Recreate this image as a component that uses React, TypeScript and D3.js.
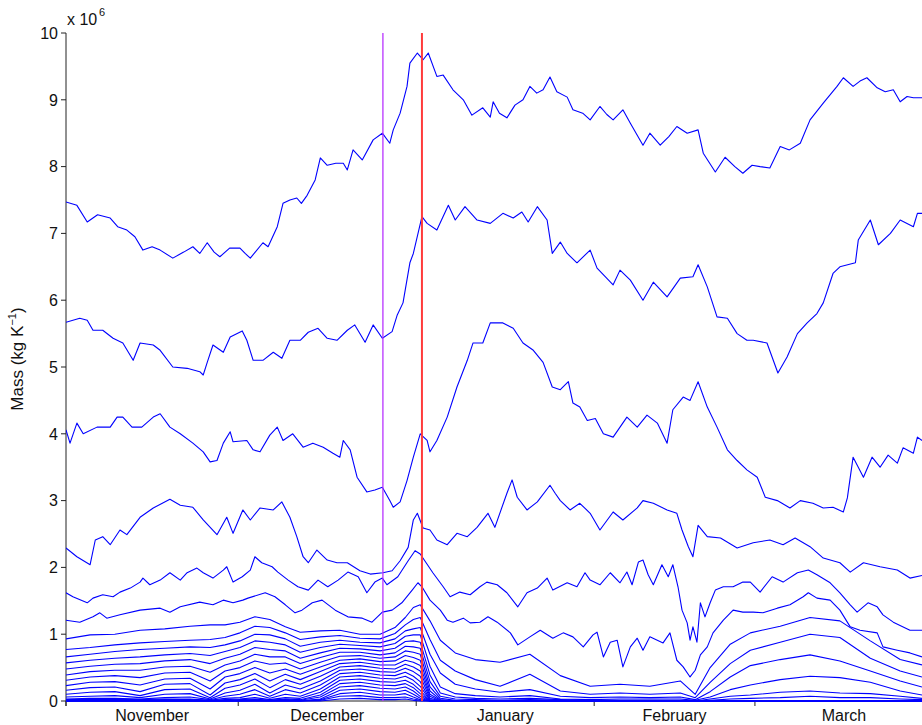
import React from "react";
import * as d3 from "d3";

// x values are days since 1 November; y values are mass in units of 10^6 kg K^-1
const monthLabels = ["November", "December", "January", "February", "March"];
const monthStartDays = [0, 30, 61, 92, 120, 151];
const yTickValues = [0, 1, 2, 3, 4, 5, 6, 7, 8, 9, 10];
const purpleEventDay = 55.2;
const redEventDay = 62.0;
const lastDay = 149.1;

const line1: [number, number][] = [
  [0, 7.47], [1.9, 7.42], [3.7, 7.17], [5.5, 7.28], [7.7, 7.23], [9, 7.1], [10.6, 7.05], [12, 6.95], [13.4, 6.75], [15, 6.8], [16.4, 6.75],
  [18.6, 6.63], [20.5, 6.72], [22.1, 6.8], [23.3, 6.7], [24.6, 6.86], [25.8, 6.72], [26.8, 6.65], [28.5, 6.78], [30.3, 6.78], [31.2, 6.7], [32.1, 6.63],
  [34.3, 6.86], [35.2, 6.8], [36.8, 7.1], [37.8, 7.45], [39, 7.5], [40.2, 7.53], [41, 7.45], [42.0, 7.57], [43.4, 7.8], [44.3, 8.13],
  [45.5, 8.02], [47, 8.05], [48.3, 8.05], [49.0, 7.95], [50.0, 8.25], [51.6, 8.1], [53.5, 8.4], [55.1, 8.5], [56.4, 8.35], [57.0, 8.55],
  [58.2, 8.8], [59.4, 9.2], [59.9, 9.55], [61.2, 9.7], [62.2, 9.6], [63.1, 9.7], [64.6, 9.35], [65.7, 9.37], [67.4, 9.15], [69.2, 9.0],
  [70.7, 8.77], [72.6, 8.88], [73.9, 8.74], [74.4, 8.97], [75.5, 8.8], [76.8, 8.73], [78.2, 8.92], [79.6, 9.0], [80.8, 9.2], [82, 9.1], [83.1, 9.15],
  [84.3, 9.34], [85.5, 9.12], [87.3, 9.04], [88.3, 8.85], [90, 8.8], [91.3, 8.7], [93.0, 8.9], [94.2, 8.78], [95.3, 8.7], [97.0, 8.85], [98.3, 8.65],
  [100.5, 8.32], [101.7, 8.5], [103.5, 8.32], [105, 8.45], [106.4, 8.6], [108.2, 8.5], [110.1, 8.55], [111.0, 8.2], [113.1, 7.92],
  [114.8, 8.14], [116.5, 8.0], [117.9, 7.9], [119.5, 8.02], [120.9, 8.0], [122.6, 7.98], [124.4, 8.3], [126, 8.25], [127.9, 8.35], [129.6, 8.7],
  [131.9, 8.95], [134.3, 9.2], [135.4, 9.33], [137.1, 9.2], [138.3, 9.28], [139.5, 9.33], [141.3, 9.18], [142.7, 9.12], [144.1, 9.15], [145.3, 8.97],
  [146.5, 9.05], [147.6, 9.03], [149.1, 9.03],
];

const line2: [number, number][] = [
  [0, 5.67], [2.4, 5.73], [3.7, 5.7], [4.7, 5.55], [6.4, 5.55], [8.2, 5.43], [9.9, 5.36], [11.7, 5.1], [12.9, 5.36], [15.2, 5.33],
  [16.4, 5.25], [18.6, 5.0], [21.1, 4.98], [23.3, 4.93], [23.9, 4.88], [24.6, 5.07], [25.6, 5.33], [27.4, 5.22], [28.6, 5.45], [30.7, 5.54],
  [31.5, 5.4], [32.6, 5.1], [34.3, 5.1], [36.1, 5.22], [37.6, 5.13], [39.0, 5.4], [40.8, 5.4], [42.2, 5.52], [43.9, 5.58], [45.5, 5.43],
  [47.2, 5.4], [49.0, 5.55], [50.3, 5.63], [52.1, 5.37], [53.5, 5.63], [55.1, 5.43], [56.8, 5.53], [57.7, 5.78], [58.7, 5.96], [59.9, 6.56],
  [60.5, 6.7], [62.0, 7.25], [62.9, 7.15], [64.6, 7.05], [66.6, 7.42], [67.8, 7.2], [69.5, 7.4], [71.6, 7.2], [73.9, 7.15], [76.1, 7.3],
  [77.9, 7.23], [79.4, 7.32], [80.5, 7.17], [82.1, 7.4], [83.8, 7.2], [84.7, 6.7], [86.1, 6.87], [87.3, 6.7], [89.0, 6.56], [91.3, 6.75],
  [92.5, 6.48], [95.3, 6.23], [96.5, 6.45], [98.3, 6.3], [100.5, 6.0], [102.3, 6.27], [104.7, 6.05], [107.0, 6.33], [109.2, 6.35],
  [110.1, 6.53], [111.7, 6.2], [113.4, 5.75], [115.2, 5.73], [116.9, 5.5], [118.6, 5.4], [119.7, 5.4], [122.1, 5.36], [124.0, 4.91],
  [125.6, 5.15], [127.4, 5.5], [129.1, 5.66], [130.8, 5.8], [131.9, 5.96], [133.6, 6.4], [134.8, 6.5], [137.5, 6.56], [138.0, 6.9],
  [140.1, 7.2], [141.5, 6.83], [143.6, 7.0], [145.3, 7.2], [147.6, 7.1], [148.3, 7.3], [149.1, 7.3],
];

const line3: [number, number][] = [
  [0, 4.06], [0.7, 3.86], [1.9, 4.16], [3.0, 4.0], [5.4, 4.1], [7.7, 4.1], [8.9, 4.25], [9.9, 4.25], [11.5, 4.1], [13.2, 4.1],
  [15.2, 4.25], [16.4, 4.3], [18.1, 4.1], [19.9, 4.0], [22.1, 3.86], [23.9, 3.73], [25.1, 3.58], [26.3, 3.6], [27.4, 3.86], [28.6, 4.03],
  [29.1, 3.88], [31.5, 3.9], [32.6, 3.76], [33.8, 3.73], [35.5, 3.98], [36.8, 4.1], [37.8, 3.9], [39.5, 4.0], [41.3, 3.8], [43.0, 3.86],
  [44.8, 3.8], [46.5, 3.71], [47.7, 3.65], [48.3, 3.9], [49.5, 3.76], [50.7, 3.35], [52.4, 3.13], [53.8, 3.16], [55.1, 3.2], [56.4, 3.0],
  [57.0, 2.9], [58.2, 2.98], [59.4, 3.3], [60.5, 3.65], [61.7, 4.0], [62.9, 3.9], [63.4, 3.73], [64.6, 3.9], [66.4, 4.25], [68.1, 4.7],
  [69.9, 5.1], [70.9, 5.36], [72.6, 5.36], [73.9, 5.66], [76.1, 5.66], [77.9, 5.58], [79.6, 5.36], [81.4, 5.25], [83.1, 5.07], [84.7, 4.7],
  [86.1, 4.66], [87.5, 4.78], [88.3, 4.46], [89.5, 4.4], [90.8, 4.2], [92.2, 4.23], [93.6, 4.0], [95.3, 3.95], [97.7, 4.25], [99.5, 4.1],
  [101.2, 4.28], [103.0, 4.16], [104.7, 3.86], [105.7, 4.36], [107.5, 4.55], [108.7, 4.5], [110.1, 4.78], [111.7, 4.4], [113.4, 4.1],
  [115.2, 3.76], [116.9, 3.6], [118.6, 3.46], [120.4, 3.35], [121.8, 3.05], [123.9, 3.0], [126.1, 2.89], [127.9, 3.0], [130.1, 2.96],
  [131.9, 2.89], [133.6, 2.9], [135.4, 2.83], [136.1, 3.04], [137.1, 3.65], [138.9, 3.35], [140.4, 3.65], [141.8, 3.5], [143.2, 3.68],
  [144.8, 3.56], [145.8, 3.79], [147.6, 3.71], [148.3, 3.95], [149.1, 3.9],
];

const line4: [number, number][] = [
  [0, 2.29], [1.9, 2.16], [4.2, 2.04], [5.1, 2.41], [6.4, 2.46], [7.7, 2.34], [9.4, 2.56], [10.6, 2.49], [12.9, 2.75], [15.2, 2.89],
  [18.1, 3.02], [19.9, 2.93], [22.1, 2.9], [23.9, 2.71], [26.3, 2.49], [28.0, 2.75], [29.1, 2.51], [30.8, 2.86], [32.1, 2.71], [33.8, 2.89],
  [36.1, 2.86], [37.6, 2.98], [39.0, 2.75], [40.2, 2.46], [41.3, 2.16], [42.2, 2.07], [43.7, 2.26], [45.5, 2.11], [47.2, 2.07], [49.0, 2.07],
  [51.2, 1.95], [53.0, 1.9], [55.2, 1.92], [56.8, 1.95], [58.2, 2.1], [59.6, 2.3], [60.5, 2.71], [61.2, 2.81], [62.2, 2.59], [63.4, 2.56],
  [64.6, 2.41], [66.4, 2.34], [68.1, 2.51], [69.9, 2.46], [71.6, 2.6], [73.5, 2.81], [74.7, 2.6], [76.8, 3.11], [77.7, 3.31], [78.6, 3.05],
  [80.3, 2.86], [82.1, 2.98], [84.3, 3.23], [85.2, 3.11], [86.1, 3.0], [87.8, 2.86], [89.5, 2.96], [91.3, 2.81], [93.0, 2.56], [95.3, 2.83],
  [97.0, 2.71], [99.5, 2.89], [100.5, 3.0], [102.3, 2.96], [104.7, 2.86], [106.4, 2.81], [107.3, 2.56], [108.4, 2.31], [109.2, 2.16],
  [110.1, 2.63], [111.7, 2.46], [114.0, 2.44], [116.9, 2.29], [119.7, 2.37], [122.6, 2.41], [124.9, 2.34], [127.0, 2.44], [129.6, 2.31],
  [131.9, 2.14], [134.8, 2.07], [136.6, 1.93], [138.9, 2.07], [141.8, 2.01], [144.8, 1.96], [147.0, 1.84], [149.1, 1.88],
];

const line5: [number, number][] = [
  [0, 1.62], [1.2, 1.56], [3.7, 1.47], [4.7, 1.54], [6.4, 1.59], [8.2, 1.56], [9.4, 1.63], [11.2, 1.69], [12.9, 1.78], [13.4, 1.84],
  [14.6, 1.74], [16.4, 1.81], [18.1, 1.92], [19.9, 1.81], [21.1, 1.92], [22.8, 1.99], [23.9, 1.92], [25.6, 1.84], [27.4, 1.96], [28.0, 2.01],
  [29.1, 1.78], [30.7, 1.86], [32.1, 1.96], [32.9, 2.16], [34.1, 2.07], [35.9, 2.01], [36.9, 1.93], [38.7, 1.81], [40.4, 1.71], [42.2, 1.66],
  [43.9, 1.81], [45.6, 1.71], [47.4, 1.81], [49.1, 1.93], [50.9, 1.86], [52.4, 1.62], [53.8, 1.78], [55.1, 1.84], [55.9, 1.74], [57.8, 1.86],
  [59.6, 2.1], [60.8, 2.25], [61.7, 2.2], [63.9, 1.92], [65.7, 1.71], [66.9, 1.56], [68.6, 1.63], [70.4, 1.59], [72.1, 1.71], [73.3, 1.78],
  [75.1, 1.74], [76.8, 1.62], [78.7, 1.41], [80.3, 1.62], [82.1, 1.69], [83.8, 1.84], [84.8, 1.66], [87.3, 1.77], [89.0, 1.71], [90.4, 1.92],
  [91.3, 1.81], [93.0, 1.74], [94.8, 1.92], [96.5, 1.77], [97.7, 1.93], [98.6, 1.74], [99.7, 2.08], [100.5, 2.11], [101.4, 1.89], [102.3, 1.74],
  [103.8, 2.04], [104.9, 1.86], [105.7, 2.04], [106.6, 1.71], [107.3, 1.36], [108.2, 1.17], [108.7, 0.91], [109.2, 1.11], [109.9, 0.88],
  [110.5, 1.47], [111.3, 1.26], [112.2, 1.47], [113.1, 1.66], [114.5, 1.71], [116.2, 1.71], [117.9, 1.78], [119.2, 1.78], [120.9, 1.63],
  [123.0, 1.86], [124.9, 1.78], [127.4, 1.92], [129.3, 1.96], [130.8, 1.89], [133.1, 1.77], [134.8, 1.62], [136.6, 1.44], [137.8, 1.33],
  [139.7, 1.47], [141.3, 1.41], [142.3, 1.29], [144.1, 1.18], [147.0, 1.06], [149.1, 1.06],
];

const line6: [number, number][] = [
  [0, 1.21], [2.4, 1.18], [4.7, 1.26], [5.9, 1.32], [7.1, 1.24], [9.4, 1.29], [12.9, 1.36], [16.4, 1.39], [18.1, 1.33], [19.9, 1.41],
  [23.3, 1.48], [25.6, 1.44], [27.4, 1.51], [29.1, 1.47], [30.8, 1.51], [31.7, 1.54], [34.7, 1.62], [36.4, 1.56], [38.2, 1.44], [39.9, 1.32],
  [41.1, 1.36], [42.9, 1.47], [44.6, 1.51], [46.9, 1.36], [49.1, 1.26], [51.6, 1.24], [53.3, 1.18], [55.1, 1.33], [56.8, 1.36], [58.5, 1.47],
  [60.3, 1.66], [61.3, 1.77], [62.0, 1.71], [63.4, 1.51], [65.2, 1.36], [66.4, 1.21], [67.4, 1.18], [69.2, 1.24], [70.4, 1.17], [72.1, 1.18],
  [73.5, 1.26], [75.1, 1.18], [77.4, 1.02], [78.7, 0.84], [80.8, 0.96], [82.6, 1.06], [84.8, 0.94], [86.6, 1.02], [88.3, 0.96], [90.1, 0.81],
  [91.8, 0.99], [92.5, 1.03], [93.6, 0.66], [94.8, 0.88], [96.0, 0.91], [97.0, 0.51], [98.3, 0.81], [99.5, 0.94], [100.5, 0.76], [101.7, 0.96],
  [104.0, 0.87], [105.2, 1.02], [106.4, 0.61], [107.5, 0.51], [108.7, 0.36], [109.6, 0.46], [110.5, 0.69], [111.7, 0.81], [112.7, 1.02],
  [114.5, 1.21], [116.2, 1.36], [117.9, 1.33], [119.7, 1.33], [121.4, 1.32], [123.9, 1.39], [126.1, 1.44], [128.4, 1.56], [129.3, 1.62],
  [130.8, 1.54], [133.1, 1.51], [134.8, 1.36], [136.6, 1.11], [138.3, 1.06], [141.3, 1.02], [142.3, 0.81], [144.8, 0.76], [147.0, 0.72],
  [149.1, 0.66],
];

// Lower family of lines: for each sample day, the values of the lines from top to bottom
const lowerDays = [
  0, 4.2, 8.5, 12.9, 17.2, 21.6, 25.1, 27.7, 30.3, 32.9, 35.5, 38.2, 40.8, 44.3, 47.7, 51.2, 54.7, 57.3, 59.1, 60.5, 61.7,
  63.4, 65.2, 67.8, 71.3, 75.6, 80.8, 86.1, 91.3, 96.5, 101.7, 107.0, 109.6, 112.2, 115.7, 119.2, 124.4, 129.6, 134.8, 140.1, 145.3, 149.1,
];
const lowerColumns: number[][] = [
  [0.93, 0.77, 0.66, 0.57, 0.48, 0.39, 0.31, 0.23, 0.16, 0.10, 0.06, 0.03, 0.02, 0.01, 0.01],
  [0.99, 0.80, 0.70, 0.61, 0.52, 0.44, 0.36, 0.28, 0.20, 0.13, 0.07, 0.04, 0.02, 0.01, 0.01],
  [1.00, 0.84, 0.74, 0.64, 0.55, 0.46, 0.38, 0.29, 0.21, 0.14, 0.08, 0.04, 0.02, 0.01, 0.01],
  [1.06, 0.87, 0.77, 0.66, 0.56, 0.46, 0.35, 0.24, 0.14, 0.08, 0.05, 0.03, 0.02, 0.01, 0.01],
  [1.08, 0.89, 0.79, 0.69, 0.60, 0.51, 0.42, 0.33, 0.25, 0.17, 0.10, 0.05, 0.03, 0.02, 0.01],
  [1.12, 0.91, 0.81, 0.71, 0.62, 0.52, 0.43, 0.34, 0.26, 0.18, 0.11, 0.06, 0.03, 0.02, 0.01],
  [1.14, 0.92, 0.80, 0.68, 0.56, 0.43, 0.30, 0.18, 0.09, 0.05, 0.03, 0.02, 0.01, 0.01],
  [1.14, 0.95, 0.84, 0.74, 0.64, 0.54, 0.45, 0.36, 0.27, 0.19, 0.12, 0.07, 0.04, 0.02, 0.01],
  [1.18, 1.02, 0.90, 0.80, 0.70, 0.60, 0.50, 0.41, 0.32, 0.24, 0.16, 0.10, 0.05, 0.03, 0.02, 0.01],
  [1.26, 1.12, 1.00, 0.90, 0.80, 0.70, 0.60, 0.50, 0.41, 0.33, 0.25, 0.17, 0.10, 0.05, 0.03, 0.02, 0.01],
  [1.22, 1.10, 0.99, 0.88, 0.77, 0.66, 0.55, 0.42, 0.30, 0.20, 0.12, 0.07, 0.04, 0.02, 0.01, 0.01],
  [1.11, 1.02, 0.93, 0.84, 0.75, 0.66, 0.57, 0.48, 0.40, 0.32, 0.24, 0.17, 0.10, 0.05, 0.03, 0.02, 0.01],
  [1.03, 0.92, 0.82, 0.73, 0.64, 0.56, 0.48, 0.40, 0.32, 0.25, 0.18, 0.12, 0.07, 0.04, 0.02, 0.01],
  [1.05, 0.96, 0.88, 0.80, 0.72, 0.65, 0.58, 0.51, 0.44, 0.37, 0.30, 0.24, 0.18, 0.13, 0.09, 0.06, 0.03, 0.02, 0.01],
  [1.06, 0.98, 0.91, 0.85, 0.79, 0.73, 0.67, 0.61, 0.56, 0.51, 0.46, 0.41, 0.36, 0.31, 0.26, 0.21, 0.16, 0.11, 0.07, 0.03],
  [1.00, 0.94, 0.88, 0.83, 0.78, 0.73, 0.68, 0.63, 0.58, 0.53, 0.48, 0.43, 0.38, 0.33, 0.28, 0.23, 0.18, 0.13, 0.08, 0.04],
  [1.00, 0.93, 0.87, 0.81, 0.75, 0.69, 0.64, 0.59, 0.54, 0.49, 0.44, 0.39, 0.34, 0.29, 0.24, 0.19, 0.14, 0.09, 0.05, 0.02],
  [1.10, 1.01, 0.93, 0.86, 0.79, 0.72, 0.66, 0.60, 0.54, 0.48, 0.43, 0.38, 0.33, 0.28, 0.23, 0.18, 0.13, 0.09, 0.05, 0.02],
  [1.25, 1.14, 1.05, 0.97, 0.89, 0.82, 0.75, 0.68, 0.61, 0.55, 0.49, 0.43, 0.37, 0.31, 0.26, 0.21, 0.16, 0.11, 0.06, 0.03],
  [1.40, 1.22, 1.08, 0.99, 0.90, 0.81, 0.73, 0.65, 0.58, 0.51, 0.44, 0.37, 0.31, 0.25, 0.20, 0.15, 0.10, 0.06, 0.03, 0.01],
  [1.44, 1.25, 1.10, 0.99, 0.88, 0.79, 0.70, 0.61, 0.53, 0.45, 0.37, 0.29, 0.22, 0.16, 0.11, 0.07, 0.04, 0.02, 0.01],
  [1.20, 0.92, 0.70, 0.52, 0.39, 0.29, 0.21, 0.15, 0.10, 0.07, 0.04, 0.02, 0.01],
  [0.91, 0.61, 0.42, 0.21, 0.12, 0.07, 0.04, 0.02, 0.01],
  [0.72, 0.45, 0.25, 0.11, 0.06, 0.03, 0.01],
  [0.62, 0.32, 0.18, 0.08, 0.04, 0.02],
  [0.58, 0.22, 0.13, 0.06, 0.03, 0.01],
  [0.70, 0.40, 0.17, 0.08, 0.04, 0.02],
  [0.38, 0.15, 0.07, 0.03, 0.02, 0.01],
  [0.22, 0.10, 0.05, 0.02, 0.01],
  [0.25, 0.12, 0.06, 0.03, 0.01],
  [0.22, 0.10, 0.05, 0.03, 0.01],
  [0.30, 0.12, 0.06, 0.03, 0.01],
  [0.10, 0.05, 0.02, 0.01],
  [0.50, 0.28, 0.14, 0.06, 0.03, 0.01],
  [0.85, 0.56, 0.36, 0.17, 0.07, 0.03],
  [1.02, 0.76, 0.53, 0.24, 0.09, 0.04],
  [1.12, 0.88, 0.62, 0.32, 0.13, 0.05],
  [1.25, 1.00, 0.69, 0.37, 0.15, 0.07],
  [1.20, 0.95, 0.60, 0.35, 0.12, 0.05],
  [0.90, 0.64, 0.45, 0.28, 0.11, 0.05],
  [0.62, 0.45, 0.30, 0.15, 0.07, 0.03],
  [0.54, 0.36, 0.21, 0.09, 0.04, 0.02],
];
const lowerLineCount = 20;

const W = 922;
const H = 725;
const M = { left: 66, right: 0, top: 33, bottom: 24 };

export default function App() {
  const x = d3.scaleLinear().domain([0, lastDay]).range([M.left, W - M.right]);
  const y = d3.scaleLinear().domain([0, 10]).range([H - M.bottom, M.top]);
  const line = d3
    .line<[number, number]>()
    .x((d) => x(d[0]))
    .y((d) => y(d[1]));

  const lowerSeries: [number, number][][] = d3.range(lowerLineCount).map((i) =>
    lowerDays.map((d, j) => [d, lowerColumns[j][i] ?? 0] as [number, number])
  );
  const allSeries = [line1, line2, line3, line4, line5, line6, ...lowerSeries];

  const font = "'Liberation Sans', Arial, Helvetica, sans-serif";
  const axisColor = "#222";
  const y0 = y(0);

  return (
    <svg
      width={W}
      height={H}
      style={{ position: "absolute", left: 0, top: 0, background: "#fff" }}
      fontFamily={font}
    >
      <defs>
        <clipPath id="plotClip">
          <rect x={M.left} y={M.top - 2} width={W - M.left} height={y0 - M.top + 3} />
        </clipPath>
      </defs>

      {/* axes */}
      <line x1={M.left} x2={M.left} y1={M.top} y2={y0 + 5} stroke={axisColor} strokeWidth={1} />
      <line x1={M.left} x2={W} y1={y0} y2={y0} stroke={axisColor} strokeWidth={1} />
      {yTickValues.map((t) => (
        <g key={"yt" + t}>
          <line x1={M.left - 5} x2={M.left} y1={y(t)} y2={y(t)} stroke={axisColor} strokeWidth={1} />
          <text x={M.left - 8} y={y(t)} dy="0.36em" textAnchor="end" fontSize={16} fill="#111">
            {t}
          </text>
        </g>
      ))}
      {monthStartDays.filter((d) => d <= lastDay).map((d) => (
        <line key={"xt" + d} x1={x(d)} x2={x(d)} y1={y0} y2={y0 + 5} stroke={axisColor} strokeWidth={1} />
      ))}
      {monthLabels.map((m, i) => (
        <text
          key={m}
          x={x((monthStartDays[i] + monthStartDays[i + 1]) / 2)}
          y={y0 + 20}
          textAnchor="middle"
          fontSize={16}
          fill="#111"
        >
          {m}
        </text>
      ))}

      {/* exponent */}
      <text x={M.left + 1} y={M.top - 8} fontSize={16} fill="#111">
        x 10
      </text>
      <text x={M.left + 33} y={M.top - 17} fontSize={11} fill="#111">
        6
      </text>

      {/* y label */}
      <text
        transform={`translate(${23},${(M.top + y0) / 2 - 8}) rotate(-90)`}
        textAnchor="middle"
        fontSize={17}
        fill="#111"
      >
        Mass (kg K<tspan dy="-7" fontSize={11}>−1</tspan>
        <tspan dy="7">)</tspan>
      </text>

      {/* series */}
      <g clipPath="url(#plotClip)">
        {allSeries.map((s, i) => (
          <path key={"s" + i} d={line(s) ?? ""} fill="none" stroke="#0000ff" strokeWidth={1.1} strokeLinejoin="round" />
        ))}
      </g>

      {/* event markers */}
      <line x1={x(purpleEventDay)} x2={x(purpleEventDay)} y1={M.top} y2={y0} stroke="#b833ff" strokeWidth={1.3} />
      <line x1={x(redEventDay)} x2={x(redEventDay)} y1={M.top} y2={y0} stroke="#ff3b3b" strokeWidth={2} />
    </svg>
  );
}
